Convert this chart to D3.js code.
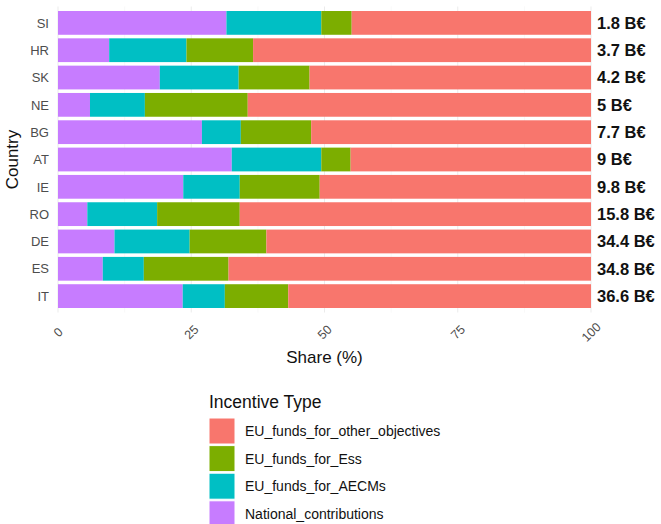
<!DOCTYPE html>
<html>
<head>
<meta charset="utf-8">
<script src="https://cdn.jsdelivr.net/npm/d3@7"></script>
<style>
  body { margin: 0; background: #fff; }
  text { font-family: "Liberation Sans", Arial, sans-serif; }
</style>
</head>
<body>
<div id="chart"></div>
<script>
// Data
//////////////////////////////////////////////////////////////////////
const countries = ["SI", "HR", "SK", "NE", "BG", "AT", "IE", "RO", "DE", "ES", "IT"];
const totals = ["1.8 B€", "3.7 B€", "4.2 B€", "5 B€", "7.7 B€", "9 B€", "9.8 B€", "15.8 B€", "34.4 B€", "34.8 B€", "36.6 B€"];
// shares (%) per incentive type, same order as countries
const nationalContributions = [31.6, 9.6, 19.1, 6.0, 27.0, 32.6, 23.5, 5.5, 10.6, 8.4, 23.4];
const euFundsAECMs = [17.8, 14.5, 14.8, 10.3, 7.3, 16.8, 10.6, 13.1, 14.1, 7.7, 7.9];
const euFundsEss = [5.7, 12.5, 13.3, 19.3, 13.2, 5.5, 15.0, 15.5, 14.4, 15.9, 11.9];
const euFundsOther = [44.9, 63.4, 52.8, 64.4, 52.5, 45.1, 50.9, 65.9, 60.9, 68.0, 56.8];
const xTicks = [0, 25, 50, 75, 100];

const typeKeys = ["National_contributions", "EU_funds_for_AECMs", "EU_funds_for_Ess", "EU_funds_for_other_objectives"];
const typeColors = ["#C77CFF", "#00BFC4", "#7CAE00", "#F8766D"];
const legendOrder = ["EU_funds_for_other_objectives", "EU_funds_for_Ess", "EU_funds_for_AECMs", "National_contributions"];

// build table for the stack
const rows = countries.map((c, i) => ({
  country: c,
  National_contributions: nationalContributions[i],
  EU_funds_for_AECMs: euFundsAECMs[i],
  EU_funds_for_Ess: euFundsEss[i],
  EU_funds_for_other_objectives: euFundsOther[i]
}));

// Layout
//////////////////////////////////////////////////////////////////////
const width = 661, height = 524;
const panel = { left: 58, right: 591, top: 6.5, bottom: 312.5 };

const svg = d3.select("#chart").append("svg")
  .attr("width", width)
  .attr("height", height);

const x = d3.scaleLinear().domain([0, 100]).range([panel.left, panel.right]);
const step = (panel.bottom - panel.top) / (countries.length + 0.2);
const y = d3.scaleBand()
  .domain(countries)
  .range([panel.top + 0.6 * step - step / 2, panel.bottom - 0.6 * step + step / 2])
  .paddingInner(0.13)
  .paddingOuter(0.065);
const color = d3.scaleOrdinal(typeKeys, typeColors);

// grid
const grid = svg.append("g");
const minor = d3.range(12.5, 100, 25);
grid.selectAll("line.minor").data(minor).join("line")
  .attr("x1", d => x(d)).attr("x2", d => x(d))
  .attr("y1", panel.top).attr("y2", panel.bottom)
  .attr("stroke", "#f0f0f0").attr("stroke-width", 0.5);
grid.selectAll("line.major").data(xTicks).join("line")
  .attr("x1", d => x(d)).attr("x2", d => x(d))
  .attr("y1", panel.top).attr("y2", panel.bottom)
  .attr("stroke", "#ebebeb").attr("stroke-width", 1);

// bars
const series = d3.stack().keys(typeKeys)(rows);
svg.append("g")
  .selectAll("g")
  .data(series)
  .join("g")
  .attr("fill", d => color(d.key))
  .selectAll("rect")
  .data(d => d)
  .join("rect")
  .attr("x", d => x(d[0]))
  .attr("width", d => x(d[1]) - x(d[0]))
  .attr("y", d => y(d.data.country))
  .attr("height", y.bandwidth());

// total labels
svg.append("g")
  .selectAll("text")
  .data(countries)
  .join("text")
  .attr("x", panel.right + 6)
  .attr("y", d => y(d) + y.bandwidth() / 2)
  .attr("dy", "0.36em")
  .attr("font-size", 16.5)
  .attr("font-weight", "bold")
  .attr("fill", "#111")
  .text((d, i) => totals[i]);

// y axis labels
svg.append("g")
  .selectAll("text")
  .data(countries)
  .join("text")
  .attr("x", panel.left - 9)
  .attr("y", d => y(d) + y.bandwidth() / 2)
  .attr("dy", "0.36em")
  .attr("text-anchor", "end")
  .attr("font-size", 13)
  .attr("fill", "#4d4d4d")
  .text(d => d);

// x axis labels, rotated
svg.append("g")
  .selectAll("text")
  .data(xTicks)
  .join("text")
  .attr("transform", d => `translate(${x(d)},${332}) rotate(-45)`)
  .attr("text-anchor", "middle")
  .attr("dy", "0.36em")
  .attr("font-size", 12.5)
  .attr("fill", "#4d4d4d")
  .text(d => d);

// axis titles
svg.append("text")
  .attr("x", (panel.left + panel.right) / 2)
  .attr("y", 363)
  .attr("text-anchor", "middle")
  .attr("font-size", 17)
  .attr("fill", "#111")
  .text("Share (%)");
svg.append("text")
  .attr("transform", `translate(18,${(panel.top + panel.bottom) / 2}) rotate(-90)`)
  .attr("text-anchor", "middle")
  .attr("font-size", 17)
  .attr("fill", "#111")
  .text("Country");

// Legend
//////////////////////////////////////////////////////////////////////
const legend = svg.append("g").attr("transform", "translate(209,0)");
legend.append("text")
  .attr("x", 0).attr("y", 408)
  .attr("font-size", 17.5)
  .attr("fill", "#111")
  .text("Incentive Type");
const item = legend.selectAll("g.item")
  .data(legendOrder)
  .join("g")
  .attr("transform", (d, i) => `translate(0,${418 + i * 27.6})`);
item.append("rect")
  .attr("width", 26).attr("height", 26)
  .attr("fill", d => color(d))
  .attr("stroke", "#fff").attr("stroke-width", 1);
item.append("text")
  .attr("x", 36).attr("y", 13)
  .attr("dy", "0.36em")
  .attr("font-size", 14)
  .attr("fill", "#111")
  .text(d => d);
</script>
</body>
</html>
